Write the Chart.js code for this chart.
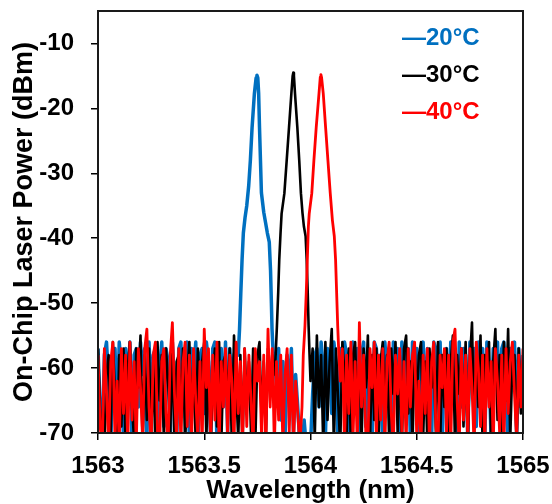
<!DOCTYPE html>
<html>
<head>
<meta charset="utf-8">
<script src="https://cdn.jsdelivr.net/npm/chart.js@4.4.1/dist/chart.umd.min.js"></script>
<style>
  html, body { margin: 0; padding: 0; background: #ffffff; }
  #wrap { width: 552px; height: 504px; }
</style>
</head>
<body>
<div id="wrap"><canvas id="c" width="552" height="504"></canvas></div>
<script>
// ---------------- DATA ----------------
const seriesNames = ['20°C', '30°C', '40°C'];
const xTicks = [1563, 1563.5, 1564, 1564.5, 1565];
const yTicks = [-70, -60, -50, -40, -30, -20, -10];
const gridStart = 1563;      // nm, first noise sample
const gridStep = 0.01;       // nm, noise sample spacing

// 20°C
const blueNoiseA = [
  -57,-66,-71,-58,-56,-62,-72,-59,-57,-68,
  -56,-60,-71,-57,-63,-56,-72,-58,-57,-66,
  -56,-61,-57,-71,-56,-64,-58,-57,-72,-60,
  -56,-69,-57,-59,-71,-56,-62,-72,-57,-56,
  -65,-58,-56,-71,-57,-61,-56,-72,-58,-57,
  -67,-56,-59,-71,-57,-56,-72,-60,-57,-66,
  -56,-70,-57,-63,-58,-57
];
const bluePeakNm = [1563.660,1563.666,1563.672,1563.678,1563.684,1563.692,1563.700,1563.709,1563.717,1563.725,1563.736,1563.744,1563.748,1563.752,1563.756,1563.760,1563.769,1563.780,1563.788,1563.797,1563.806,1563.812,1563.816,1563.819,1563.824];
const bluePeakDbm = [-58,-54,-48.5,-43.3,-39.2,-36.8,-35,-32,-28,-23,-17.7,-15.3,-14.9,-15.3,-17.7,-22.9,-33,-36,-37.5,-39.2,-40.6,-45,-50,-54,-57.5];
const blueNoiseBStart = 1563.83;
const blueNoiseB = [
  -58,-63,-57,-68,-59,-71,-58,-64,-57,-70,-61,-66,-72,-73,-68,-72,-73,
  -72,-64,-58,-57,-66,-56,-60,-71,-57,-58,
  -67,-56,-59,-72,-57,-63,-56,-58,-71,-57,
  -56,-65,-57,-72,-58,-56,-69,-57,-60,-71,
  -56,-57,-64,-58,-72,-56,-61,-57,-70,-56,
  -58,-57,-72,-56,-66,-58,-57,-71,-56,-60,
  -57,-72,-58,-56,-67,-57,-59,-71,-56,-57,
  -63,-56,-72,-58,-57,-70,-56,-61,-57,-72,
  -56,-66,-57,-58,-71,-56,-62,-57,-69,-56,
  -58,-57,-72,-56,-60,-71,-57,-58,-56,-68,
  -57,-56,-64,-72,-57,-58,-56,-70,-57,-66,
  -58
];

// 30°C
const blackNoiseA = [
  -57,-66,-72,-72,-61,-58,-70,-56,-64,-72,
  -58,-69,-57,-72,-60,-56,-66,-71,-57,-63,
  -55,-72,-58,-68,-57,-71,-59,-72,-56,-65,
  -58,-71,-57,-62,-70,-56,-72,-59,-58,-67,
  -57,-72,-61,-56,-70,-58,-72,-57,-64,-59,
  -56,-71,-58,-72,-62,-57,-69,-56,-72,-59,
  -58,-66,-57,-72,-55,-63,-71,-58,-72,-57,
  -65,-59,-70,-57,-72,-58,-56,-68,-59,-71,
  -57,-63,-58,-61
];
const blackPeakNm = [1563.836,1563.842,1563.848,1563.853,1563.859,1563.864,1563.877,1563.888,1563.899,1563.910,1563.916,1563.919,1563.922,1563.927,1563.938,1563.947,1563.955,1563.962,1563.969,1563.977,1563.982,1563.987,1563.991,1563.995];
const blackPeakDbm = [-58,-53.5,-48.4,-43.3,-39.2,-36.2,-33.1,-28,-22.9,-17.7,-15,-14.5,-15,-17.7,-22.9,-28,-33.1,-36,-38.2,-39.7,-43.3,-48.4,-53.5,-57.5];
const blackNoiseBStart = 1564.00;
const blackNoiseB = [
  -62,-57,-71,-55,-66,-58,-72,-56,-68,-59,
  -54,-72,-57,-65,-72,-56,-61,-70,-57,-72,
  -58,-56,-67,-59,-72,-57,-63,-55,-71,-58,
  -68,-57,-72,-59,-56,-66,-58,-71,-57,-64,
  -56,-70,-58,-72,-57,-55,-67,-59,-72,-57,
  -65,-58,-56,-71,-59,-72,-57,-63,-58,-70,
  -56,-72,-58,-66,-57,-71,-59,-55,-72,-58,
  -64,-57,-69,-56,-72,-59,-53,-70,-57,-66,
  -55,-72,-58,-63,-56,-71,-59,-54,-68,-58,
  -72,-56,-65,-54,-71,-59,-58,-72,-57,-67,
  -60
];

// 40°C
const redNoiseA = [
  -58,-69,-72,-57,-64,-72,-59,-56,-71,-62,
  -72,-57,-67,-58,-72,-56,-68,-59,-72,-57,
  -63,-71,-57,-54,-66,-72,-58,-56,-70,-72,
  -59,-57,-67,-72,-58,-53,-64,-71,-57,-72,
  -59,-56,-69,-58,-72,-57,-65,-71,-59,-72,
  -54,-63,-57,-72,-58,-68,-56,-72,-59,-66,
  -57,-71,-58,-62,-72,-56,-67,-59,-72,-57,
  -69,-58,-65,-72,-57,-62,-59,-71,-58,-72,
  -54,-66,-57,-72,-59,-68,-58,-72,-61,-57,
  -70,-58,-72,-62,-67,-72,-66
];
const redPeakNm = [1563.966,1563.974,1563.980,1563.985,1563.990,1563.994,1564.006,1564.016,1564.027,1564.040,1564.046,1564.049,1564.052,1564.060,1564.071,1564.082,1564.093,1564.103,1564.112,1564.118,1564.123,1564.128,1564.133];
const redPeakDbm = [-58,-53.5,-48.4,-43.3,-38.2,-36.2,-33.1,-28,-22.9,-17.7,-15.2,-14.8,-15.2,-17.7,-22.9,-28,-33.1,-37.2,-39.7,-43.3,-48.4,-53.5,-57.5];
const redNoiseBStart = 1564.14;
const redNoiseB = [
  -62,-57,-72,-58,-67,-56,-71,-59,-72,-53,
  -66,-58,-70,-72,-57,-63,-56,-71,-58,-68,
  -57,-72,-59,-56,-67,-72,-58,-64,-57,-70,
  -59,-72,-57,-66,-58,-56,-71,-62,-72,-58,
  -67,-57,-72,-59,-56,-69,-72,-58,-63,-57,
  -70,-58,-72,-56,-54,-65,-72,-57,-68,-58,
  -71,-57,-63,-72,-56,-60,-69,-58,-72,-57,
  -66,-59,-72,-57,-62,-70,-58,
  -72,-57,-67,-59,-56,-64,-71,-58,-66,-57
];

// ---------------- BUILD ----------------
function buildSeries(noiseA, peakNm, peakDbm, noiseB, noiseBStart) {
  const pts = [];
  noiseA.forEach((v, i) => pts.push({ x: gridStart + i * gridStep, y: v }));
  peakNm.forEach((x, i) => pts.push({ x: x, y: peakDbm[i] }));
  noiseB.forEach((v, i) => pts.push({ x: noiseBStart + i * gridStep, y: v }));
  return pts;
}

const colors = ['#0070C0', '#000000', '#FF0000'];
const FONT = "'Liberation Sans', Arial, Helvetica, sans-serif";

const frameAndLegend = {
  id: 'frameAndLegend',
  afterDatasetsDraw(chart) {
    const { ctx, chartArea: a } = chart;
    ctx.save();
    ctx.strokeStyle = '#1a1a1a';
    ctx.lineWidth = 2;
    ctx.strokeRect(a.left, a.top, a.right - a.left, a.bottom - a.top);
    ctx.restore();
  },
  afterDraw(chart) {
    const { ctx, chartArea: a } = chart;
    ctx.save();
    ctx.font = 'bold 24px ' + FONT;
    ctx.textAlign = 'left';
    ctx.textBaseline = 'middle';
    seriesNames.forEach((name, i) => {
      ctx.fillStyle = colors[i];
      ctx.fillText('\u2014' + name, a.left + 304, a.top + 27 + i * 37);
    });
    ctx.restore();
  }
};

new Chart(document.getElementById('c'), {
  type: 'line',
  data: {
    datasets: [
      { label: seriesNames[0], data: buildSeries(blueNoiseA, bluePeakNm, bluePeakDbm, blueNoiseB, blueNoiseBStart),
        borderColor: colors[0], borderWidth: 3.5, order: 3 },
      { label: seriesNames[1], data: buildSeries(blackNoiseA, blackPeakNm, blackPeakDbm, blackNoiseB, blackNoiseBStart),
        borderColor: colors[1], borderWidth: 2.6, order: 2 },
      { label: seriesNames[2], data: buildSeries(redNoiseA, redPeakNm, redPeakDbm, redNoiseB, redNoiseBStart),
        borderColor: colors[2], borderWidth: 2.8, order: 1 }
    ].map(d => Object.assign(d, { pointRadius: 0, tension: 0, fill: false, clip: 0, borderJoinStyle: 'round' }))
  },
  options: {
    responsive: false,
    animation: false,
    devicePixelRatio: 1,
    layout: { padding: { top: 11, right: 29, left: 0, bottom: 0 } },
    plugins: { legend: { display: false }, tooltip: { enabled: false } },
    scales: {
      x: {
        type: 'linear',
        min: xTicks[0], max: xTicks[xTicks.length - 1],
        afterFit(s) { s.height = 71; s.paddingLeft = 0; s.paddingRight = 0; },
        afterBuildTicks(s) { s.ticks = xTicks.map(v => ({ value: v })); },
        ticks: {
          padding: 12,
          font: { family: FONT, size: 24, weight: 'bold' },
          color: '#000',
          maxRotation: 0,
          callback: v => String(v)
        },
        grid: { display: true, drawOnChartArea: false, drawTicks: true, tickLength: 7, color: '#000', lineWidth: 1.5 },
        border: { display: true, color: '#000', width: 2 },
        title: { display: true, text: 'Wavelength (nm)', color: '#000',
          font: { family: FONT, size: 26, weight: 'bold', lineHeight: 1 }, padding: { top: 0, bottom: 0 } }
      },
      y: {
        type: 'linear',
        min: -70, max: -5,
        afterFit(s) { s.width = 98; s.paddingTop = 0; s.paddingBottom = 0; },
        afterBuildTicks(s) { s.ticks = yTicks.map(v => ({ value: v })); },
        ticks: {
          padding: 17,
          font: { family: FONT, size: 24, weight: 'bold' },
          color: '#000',
          callback: v => String(v)
        },
        grid: { display: true, drawOnChartArea: false, drawTicks: true, tickLength: 7, color: '#000', lineWidth: 1.5 },
        border: { display: true, color: '#000', width: 2 },
        title: { display: true, text: 'On-Chip Laser Power (dBm)', color: '#000',
          font: { family: FONT, size: 27, weight: 'bold', lineHeight: 1.2 }, padding: { top: 8, bottom: 0 } }
      }
    }
  },
  plugins: [frameAndLegend]
});
</script>
</body>
</html>
